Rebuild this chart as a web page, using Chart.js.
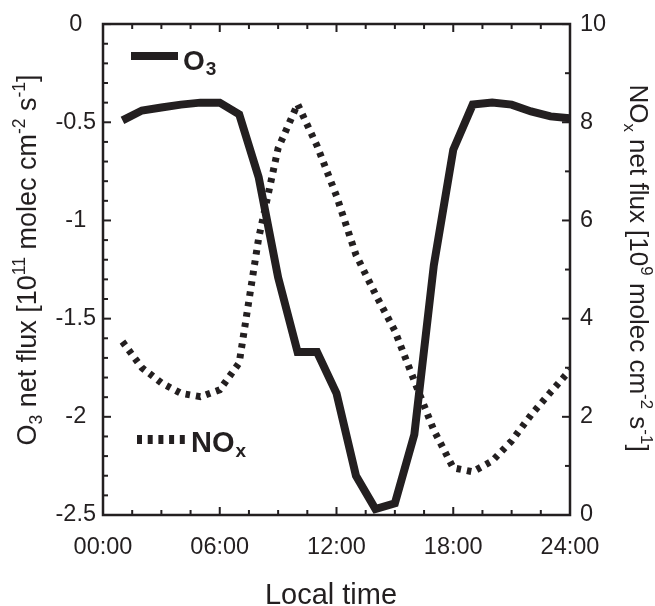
<!DOCTYPE html>
<html><head><meta charset="utf-8">
<script src="https://cdn.jsdelivr.net/npm/chart.js@4/dist/chart.umd.min.js"></script>
<style>html,body{margin:0;padding:0;background:#fff}#wrap{width:655px;height:606px}</style>
</head><body><div id="wrap"><canvas id="c" width="655" height="606"></canvas></div>
<script>
const hours = [1,2,3,4,5,6,7,8,9,10,11,12,13,14,15,16,17,18,19,20,21,22,23,24];
const o3Flux = [-0.49,-0.44,-0.425,-0.41,-0.40,-0.40,-0.46,-0.78,-1.29,-1.67,-1.67,-1.88,-2.30,-2.47,-2.44,-2.09,-1.23,-0.64,-0.41,-0.40,-0.41,-0.445,-0.47,-0.48];
const noxFlux = [3.53,3.0,2.69,2.48,2.41,2.55,3.1,5.64,7.47,8.37,7.52,6.50,5.30,4.50,3.75,2.73,1.73,0.96,0.88,1.10,1.51,2.04,2.50,2.95];
const xTickValues = [0,6,12,18,24];
const xTickLabels = ['00:00','06:00','12:00','18:00','24:00'];
const leftTickValues = [0,-0.5,-1,-1.5,-2,-2.5];
const leftTickLabels = ['0','-0.5','-1','-1.5','-2','-2.5'];
const rightTickValues = [0,2,4,6,8,10];
const rightTickLabels = ['0','2','4','6','8','10'];

const INK = '#231f20';
const FONT = '"Liberation Sans", Arial, Helvetica, sans-serif';

function drawRich(ctx, segs, F, bold) {
  const w = bold ? 'bold ' : '';
  let total = 0;
  const parts = segs.map(s => {
    const size = s[1] === 'n' ? F : F * 0.65;
    ctx.font = w + size + 'px ' + FONT;
    const width = ctx.measureText(s[0]).width;
    total += width;
    return {t: s[0], k: s[1], size, width};
  });
  let x = -total / 2;
  ctx.textBaseline = 'alphabetic';
  ctx.textAlign = 'left';
  parts.forEach(p => {
    ctx.font = w + p.size + 'px ' + FONT;
    const dy = p.k === 'sub' ? F * 0.22 : (p.k === 'sup' ? -F * 0.42 : 0);
    ctx.fillText(p.t, x, dy);
    x += p.width;
  });
}

const decor = {
  id: 'decor',
  afterDatasetsDraw(chart) {
    const ctx = chart.ctx;
    const a = chart.chartArea;
    const xs = chart.scales.x, yl = chart.scales.y, yr = chart.scales.y2;
    ctx.save();
    ctx.strokeStyle = INK;
    ctx.fillStyle = INK;
    ctx.lineWidth = 2.5;
    ctx.lineCap = 'butt';
    ctx.beginPath();
    ctx.rect(a.left, a.top, a.right - a.left, a.bottom - a.top);
    ctx.stroke();
    ctx.lineWidth = 2;
    for (let i = 0; i <= 16; i++) {
      const v = i * 1.5;
      const len = (i % 4 === 0) ? 8 : 5;
      const px = xs.getPixelForValue(v);
      ctx.beginPath();
      ctx.moveTo(px, a.bottom); ctx.lineTo(px, a.bottom - len);
      ctx.moveTo(px, a.top); ctx.lineTo(px, a.top + len);
      ctx.stroke();
    }
    for (let i = 0; i <= 25; i++) {
      const v = -i * 0.1;
      const len = (i % 5 === 0) ? 8 : 5;
      const py = yl.getPixelForValue(v);
      ctx.beginPath();
      ctx.moveTo(a.left, py); ctx.lineTo(a.left + len, py);
      ctx.stroke();
    }
    for (let i = 0; i <= 10; i++) {
      const len = (i % 2 === 0) ? 8 : 5;
      const py = yr.getPixelForValue(i);
      ctx.beginPath();
      ctx.moveTo(a.right, py); ctx.lineTo(a.right - len, py);
      ctx.stroke();
    }
    // legend O3
    ctx.lineWidth = 8;
    ctx.beginPath(); ctx.moveTo(131, 56); ctx.lineTo(178, 56); ctx.stroke();
    ctx.save(); ctx.translate(183, 70);
    ctx.textAlign = 'left';
    ctx.font = 'bold 28px ' + FONT; ctx.fillText('O', 0, 0);
    const ow = ctx.measureText('O').width;
    ctx.font = 'bold 19px ' + FONT; ctx.fillText('3', ow + 1, 5);
    ctx.restore();
    // legend NOx
    ctx.lineWidth = 9;
    ctx.setLineDash([5, 5.7]);
    ctx.beginPath(); ctx.moveTo(137, 439.5); ctx.lineTo(186, 439.5); ctx.stroke();
    ctx.setLineDash([]);
    ctx.save(); ctx.translate(191, 452);
    ctx.font = 'bold 29px ' + FONT; ctx.fillText('NO', 0, 0);
    const nw = ctx.measureText('NO').width;
    ctx.font = 'bold 19px ' + FONT; ctx.fillText('x', nw + 1, 5);
    ctx.restore();
    // axis titles
    ctx.save();
    ctx.font = '29px ' + FONT; ctx.textAlign = 'center'; ctx.textBaseline = 'alphabetic';
    ctx.fillText('Local time', 331, 604);
    ctx.restore();
    ctx.save();
    ctx.translate(36, 260); ctx.rotate(-Math.PI / 2);
    drawRich(ctx, [['O','n'],['3','sub'],[' net flux [10','n'],['11','sup'],[' molec cm','n'],['-2','sup'],[' s','n'],['-1','sup'],[']','n']], 27, false);
    ctx.restore();
    ctx.save();
    ctx.translate(630, 268); ctx.rotate(Math.PI / 2);
    drawRich(ctx, [['NO','n'],['x','sub'],[' net flux [10','n'],['9','sup'],[' molec cm','n'],['-2','sup'],[' s','n'],['-1','sup'],[']','n']], 26, false);
    ctx.restore();
    ctx.restore();
  }
};

const tickFont = {family: FONT, size: 23.5};

new Chart(document.getElementById('c'), {
  type: 'line',
  data: {
    datasets: [
      {
        label: 'O3',
        data: hours.map((h, i) => ({x: h, y: o3Flux[i]})),
        yAxisID: 'y',
        borderColor: INK, borderWidth: 8, pointRadius: 0, tension: 0,
        borderJoinStyle: 'miter', borderCapStyle: 'butt', fill: false
      },
      {
        label: 'NOx',
        data: hours.map((h, i) => ({x: h, y: noxFlux[i]})),
        yAxisID: 'y2',
        borderColor: INK, borderWidth: 7, borderDash: [4.5, 6], pointRadius: 0, tension: 0,
        borderCapStyle: 'butt', fill: false
      }
    ]
  },
  options: {
    responsive: false,
    animation: false,
    devicePixelRatio: 1,
    layout: {padding: {top: 24, left: 0, right: 0, bottom: 0}},
    plugins: {legend: {display: false}, tooltip: {enabled: false}, title: {display: false}},
    scales: {
      x: {
        type: 'linear', position: 'bottom', min: 0, max: 24,
        afterBuildTicks: s => { s.ticks = xTickValues.map(v => ({value: v})); },
        afterFit: s => { s.height = 91; },
        ticks: {color: INK, font: tickFont, padding: 18, maxRotation: 0, autoSkip: false,
          callback: (v) => xTickLabels[xTickValues.indexOf(v)]},
        grid: {display: false, drawTicks: false},
        border: {display: false}
      },
      y: {
        type: 'linear', position: 'left', min: -2.5, max: 0,
        afterBuildTicks: s => { s.ticks = leftTickValues.map(v => ({value: v})); },
        afterFit: s => { s.width = 103; },
        ticks: {color: INK, font: tickFont, padding: 7, crossAlign: 'center',
          callback: (v) => leftTickLabels[leftTickValues.indexOf(v)]},
        grid: {display: false, drawTicks: false},
        border: {display: false}
      },
      y2: {
        type: 'linear', position: 'right', min: 0, max: 10,
        afterBuildTicks: s => { s.ticks = rightTickValues.map(v => ({value: v})); },
        afterFit: s => { s.width = 85; },
        ticks: {color: INK, font: tickFont, padding: 10,
          callback: (v) => rightTickLabels[rightTickValues.indexOf(v)]},
        grid: {display: false, drawTicks: false},
        border: {display: false}
      }
    }
  },
  plugins: [decor]
});
</script></body></html>
